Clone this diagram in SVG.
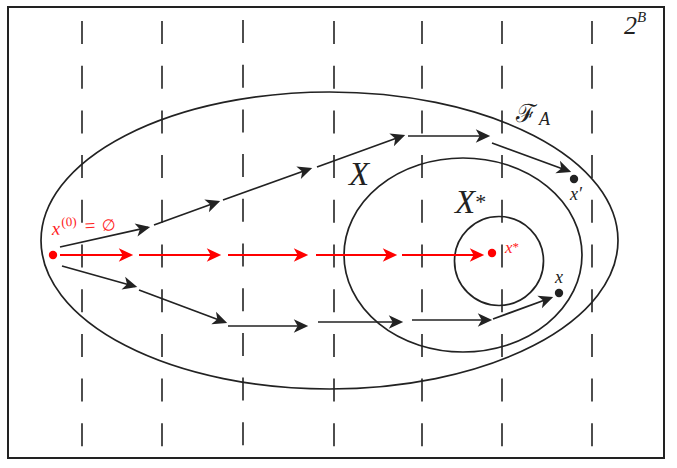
<svg xmlns="http://www.w3.org/2000/svg" width="677" height="468" viewBox="0 0 677 468">
<style>
.frame{fill:#fff;stroke:#222;stroke-width:2}
.dash{stroke:#222;stroke-width:1.6;stroke-dasharray:23 21.7;fill:none}
.set{fill:none;stroke:#222;stroke-width:1.7}
.blk{stroke:#222;stroke-width:1.7;fill:none;marker-end:url(#ab)}
.red{stroke:#f00;stroke-width:2;fill:none;marker-end:url(#ar)}
.m{font-family:"Liberation Serif","DejaVu Serif",serif;font-style:italic;fill:#222}
.mr{font-family:"Liberation Serif","DejaVu Serif",serif;font-style:italic;fill:#f22}
</style>
<defs>
<marker id="ab" markerUnits="userSpaceOnUse" markerWidth="20" markerHeight="20" viewBox="-14 -8 18 16" refX="0" refY="0" orient="auto">
<path d="M2,0 L-11,-6 L-7.5,0 L-11,6 Z" fill="#222"/>
</marker>
<marker id="ar" markerUnits="userSpaceOnUse" markerWidth="20" markerHeight="20" viewBox="-14 -8 18 16" refX="0" refY="0" orient="auto">
<path d="M2,0 L-11,-6 L-7.5,0 L-11,6 Z" fill="#f00"/>
</marker>
</defs>
<g id="frame">
<rect class="frame" x="8" y="7" width="656" height="451"/>
<text class="m" x="624" y="34" font-size="26">2<tspan font-size="15" dy="-12">B</tspan></text>
</g>
<g id="grid">
<line class="dash" x1="82" y1="21" x2="82" y2="447"/>
<line class="dash" x1="162" y1="21" x2="162" y2="447"/>
<line class="dash" x1="243" y1="20" x2="243" y2="447"/>
<line class="dash" x1="334" y1="21" x2="334" y2="447"/>
<line class="dash" x1="422" y1="21" x2="422" y2="447"/>
<line class="dash" x1="502" y1="21" x2="502" y2="447"/>
<line class="dash" x1="592" y1="21" x2="592" y2="447"/>
</g>
<g id="FA">
<ellipse class="set" cx="329.5" cy="240.5" rx="288.5" ry="148.5"/>
<text x="516" y="122" font-size="25" font-family="'DejaVu Serif',serif" fill="#222">ℱ</text>
<text class="m" x="539" y="125" font-size="18">A</text>
</g>
<g id="X">
<ellipse class="set" cx="463" cy="255" rx="119" ry="97"/>
<text class="m" x="349" y="185" font-size="33">X</text>
</g>
<g id="Xstar">
<circle class="set" cx="499" cy="261" r="44.5"/>
<text class="m" x="455" y="213" font-size="33">X<tspan font-size="22" dy="-4" font-style="normal">*</tspan></text>
</g>
<g id="x0">
<circle cx="53" cy="255" r="4.2" fill="#f00"/>
<text class="mr" transform="rotate(-3 53 235)" font-size="19"><tspan x="52" y="235">x</tspan><tspan x="62" y="227" font-size="13" font-style="normal">(0)</tspan><tspan x="85" y="234" font-style="normal">=</tspan><tspan x="102" y="234" font-style="normal" font-family="'DejaVu Serif',serif" font-size="16">∅</tspan></text>
</g>
<g id="xstar">
<circle cx="492" cy="253" r="4.2" fill="#f00"/>
<text class="mr" x="505" y="253" font-size="17">x<tspan font-size="13" dy="-2" font-style="normal">*</tspan></text>
</g>
<g id="xprime">
<circle cx="574" cy="179" r="4.2" fill="#222"/>
<text class="m" x="570" y="200" font-size="18">x′</text>
</g>
<g id="xnode">
<circle cx="559" cy="293" r="4.2" fill="#222"/>
<text class="m" x="555" y="283" font-size="18">x</text>
</g>
<g id="connectors">
<line class="blk" x1="60" y1="247" x2="148" y2="227.4"/>
<line class="blk" x1="154" y1="225" x2="218.1" y2="201.7"/>
<line class="blk" x1="223" y1="200" x2="310.1" y2="168.7"/>
<line class="blk" x1="317" y1="167" x2="403.1" y2="135.7"/>
<line class="blk" x1="408" y1="136" x2="488" y2="136"/>
<line class="blk" x1="492" y1="143" x2="569.1" y2="171.3"/>
<line class="blk" x1="62" y1="266" x2="135.1" y2="286.5"/>
<line class="blk" x1="139" y1="290" x2="225.1" y2="322.3"/>
<line class="blk" x1="228" y1="326" x2="306" y2="326"/>
<line class="blk" x1="318" y1="322" x2="401" y2="322"/>
<line class="blk" x1="412" y1="320" x2="490" y2="320"/>
<line class="blk" x1="493" y1="319" x2="551.1" y2="297.7"/>
<line class="red" x1="60" y1="255" x2="131" y2="255"/>
<line class="red" x1="139" y1="255" x2="219" y2="255"/>
<line class="red" x1="228" y1="255" x2="306" y2="255"/>
<line class="red" x1="316" y1="255" x2="395" y2="255"/>
<line class="red" x1="402" y1="255" x2="482" y2="255"/>
</g>
</svg>
